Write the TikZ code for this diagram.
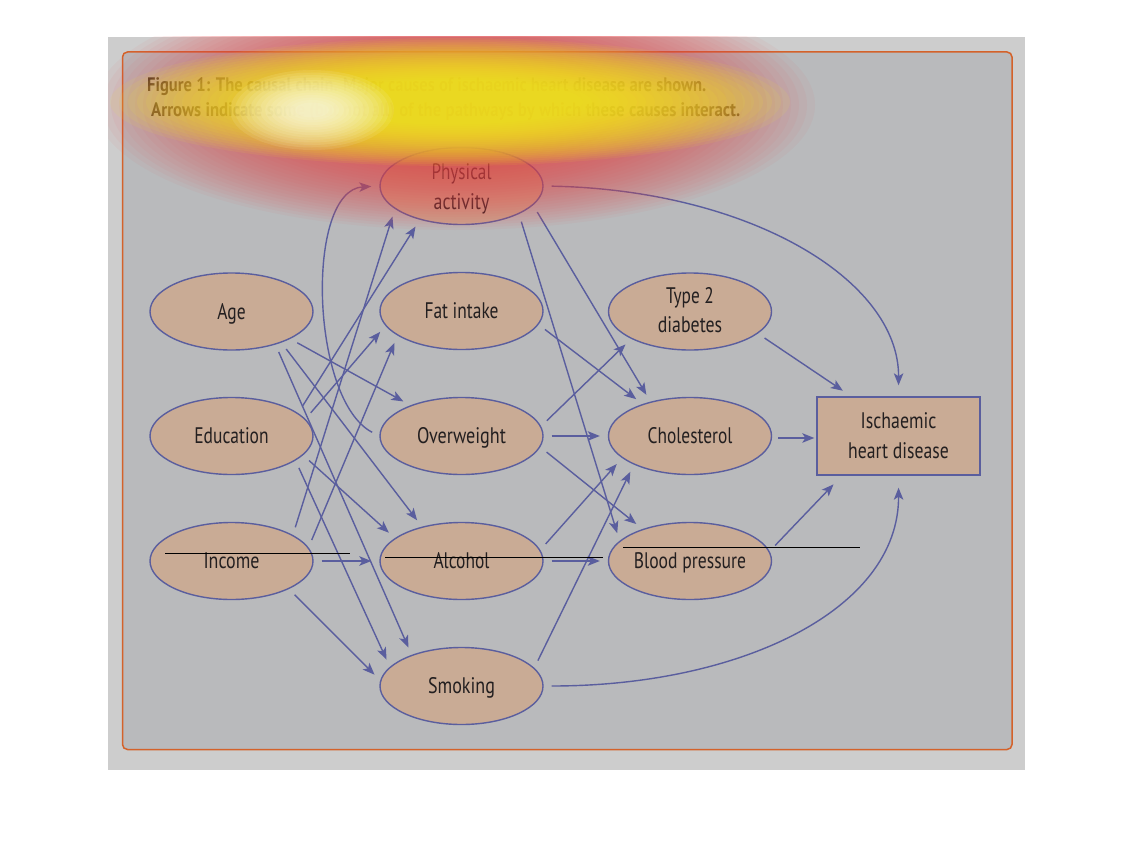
\documentclass[tikz,border=0pt]{standalone}
\usepackage{fontspec}
\setmainfont{PT Sans}
\usepackage{graphicx}
\usetikzlibrary{shapes.geometric,arrows.meta}
\definecolor{outerbg}{HTML}{CDCDCD}
\definecolor{innerbg}{HTML}{B9BABC}
\definecolor{framecol}{HTML}{D4622A}
\definecolor{ovalfill}{HTML}{C9AB95}
\definecolor{edgecol}{HTML}{5A5E9E}
\definecolor{txtcol}{HTML}{231F20}
\definecolor{heatred}{HTML}{E8484A}
\definecolor{heatyel}{HTML}{F6F41E}
\newcommand{\fitw}[2]{\resizebox{#1}{\height}{#2}}
\begin{document}
\begin{tikzpicture}[x=1pt,y=-1pt,
  oval/.style={ellipse, draw=edgecol, fill=ovalfill, line width=1.4pt, minimum width=163pt, minimum height=77pt, inner sep=0pt},
  boxn/.style={rectangle, draw=edgecol, fill=ovalfill, line width=1.4pt, minimum width=163pt, minimum height=78pt, inner sep=0pt},
  lbl/.style={anchor=base, inner sep=0pt, text=txtcol, font=\fontsize{22.5}{26}\selectfont},
  arr/.style={draw=edgecol, line width=1.4pt, -{Stealth[length=12pt,width=9.5pt,inset=3pt]}, shorten <=8pt, shorten >=8pt},
  ttl/.style={anchor=base west, inner sep=0pt, text=txtcol, font=\fontsize{19.5}{22}\selectfont\bfseries},
  strike/.style={draw=black, line width=0.9pt}]
\useasboundingbox (0,0) rectangle (1134,864);
\fill[white] (0,0) rectangle (1134,864);
\fill[outerbg] (108,37) rectangle (1025,770);
\draw[framecol, fill=innerbg, line width=1.5pt, rounded corners=5pt] (122.5,52) rectangle (1012,749.5);

% title
\node[ttl] (t1) at (147,92) {\fitw{559pt}{Figure 1: The causal chain. Major causes of ischaemic heart disease are shown.}};
\node[ttl] (t2) at (151,117) {\fitw{589pt}{Arrows indicate some (but not all) of the pathways by which these causes interact.}};

% nodes
\node[oval] (pa) at (461.5,186) {};
\node[oval] (age) at (231.5,311.5) {};
\node[oval] (fat) at (461.5,311) {};
\node[oval] (t2d) at (690,311.5) {};
\node[oval] (edu) at (231.5,436) {};
\node[oval] (ow) at (461.5,436) {};
\node[oval] (chol) at (690,436) {};
\node[boxn] (ihd) at (898.5,436) {};
\node[oval] (inc) at (231.5,561) {};
\node[oval] (alc) at (461.5,561) {};
\node[oval] (bp) at (690,561) {};
\node[oval] (smk) at (461.5,686) {};

% labels
\node[lbl] (pa1) at ([yshift=7pt]pa.center) {\fitw{60pt}{Physical}};
\node[lbl] (pa2) at ([yshift=-23pt]pa.center) {\fitw{55.7pt}{activity}};
\node[lbl] (agel) at ([yshift=-7.5pt]age.center) {\fitw{28.3pt}{Age}};
\node[lbl] (fatl) at ([yshift=-7.5pt]fat.center) {\fitw{74pt}{Fat intake}};
\node[lbl] (t2d1) at ([yshift=8.2pt]t2d.center) {\fitw{47.7pt}{Type 2}};
\node[lbl] (t2d2) at ([yshift=-21.2pt]t2d.center) {\fitw{64.3pt}{diabetes}};
\node[lbl] (edul) at ([yshift=-7.5pt]edu.center) {\fitw{74.3pt}{Education}};
\node[lbl] (owl) at ([yshift=-7.5pt]ow.center) {\fitw{89pt}{Overweight}};
\node[lbl] (choll) at ([yshift=-7.5pt]chol.center) {\fitw{84.7pt}{Cholesterol}};
\node[lbl] (ihd1) at ([yshift=7.7pt]ihd.center) {\fitw{75.7pt}{Ischaemic}};
\node[lbl] (ihd2) at ([yshift=-22.3pt]ihd.center) {\fitw{100.7pt}{heart disease}};
\node[lbl] (incl) at ([yshift=-7.5pt]inc.center) {\fitw{56pt}{Income}};
\node[lbl] (alcl) at ([yshift=-7.5pt]alc.center) {\fitw{56pt}{Alcohol}};
\node[lbl] (bpl) at ([yshift=-7.5pt]bp.center) {\fitw{112.3pt}{Blood pressure}};
\node[lbl] (smkl) at ([yshift=-7.5pt]smk.center) {\fitw{67pt}{Smoking}};

% left column edges
\draw[arr] (age.-25) -- (ow.149);
\draw[arr] (age.-32) -- (alc.139.5);
\draw[arr] (age.-37) -- (smk.148);
\draw[arr] (edu.19) -- (pa.219.5);
\draw[arr] (edu.13) -- (fat.191);
\draw[arr] (edu.-15.5) -- (alc.161);
\draw[arr] (edu.-21) -- (smk.165);
\draw[arr] (inc.23) -- (pa.199);
\draw[arr] (inc.10.5) -- (fat.201);
\draw[arr] (inc.east) -- (alc.west);
\draw[arr] (inc.-26) -- (smk.176);
\draw[arr] (ow.west) .. controls (310,400) and (305,190) .. (pa.west);

% middle column edges
\draw[arr] (pa.-15) -- (chol.139);
\draw[arr] (pa.-26) -- (bp.164);
\draw[arr] (fat.-10) -- (chol.146);
\draw[arr] (ow.7.5) -- (t2d.205);
\draw[arr] (ow.east) -- (chol.west);
\draw[arr] (ow.-8) -- (bp.146.5);
\draw[arr] (alc.8) -- (chol.198);
\draw[arr] (alc.east) -- (bp.west);
\draw[arr] (smk.14) -- (chol.207);

% to IHD
\draw[arr, shorten >=11pt] (pa.east) .. controls (750,190) and (899,280) .. (ihd.north);
\draw[arr, shorten >=12pt] (smk.east) .. controls (740,686) and (899,610) .. (ihd.south);
\draw[arr, shorten >=10pt] (t2d.-18.6) -- (ihd.140);
\draw[arr, shorten <=6pt, shorten >=2pt] ([yshift=-2pt]chol.east) -- ([yshift=-2pt]ihd.west);
\draw[arr, shorten >=12pt] (bp.7) -- (ihd.215);

% stray black lines
\draw[strike] (165,553) -- (350,553);
\draw[strike] (385,557) -- (603,557);
\draw[strike] (623,547) -- (860,547);

% heat overlay, clipped to the image area
\begin{scope}
\clip (108,37) rectangle (1025,770);
\foreach \k in {0,...,29}{
  \fill[heatred, opacity=0.05] (455,105) ellipse [x radius={360-\k*8}, y radius={125-\k*2.6}];
}
\foreach \k in {0,...,23}{
  \fill[heatyel, opacity=0.08] (450,102) ellipse [x radius={340-\k*9}, y radius={64-\k*1.8}];
}
\foreach \k in {0,...,13}{
  \fill[white, opacity=0.09] (312,110) ellipse [x radius={82-\k*5}, y radius={40-\k*2.5}];
}
\end{scope}
\end{tikzpicture}
\end{document}
